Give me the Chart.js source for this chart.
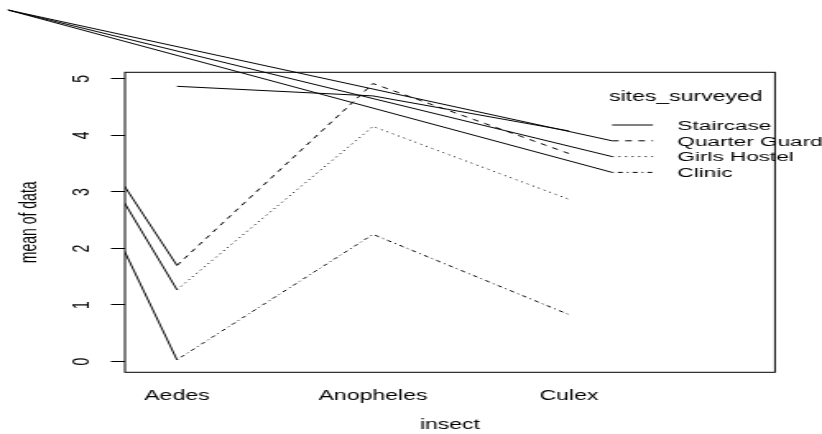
<!DOCTYPE html>
<html>
<head>
<meta charset="utf-8">
<script src="https://cdn.jsdelivr.net/npm/chart.js@4/dist/chart.umd.min.js"></script>
<style>
  body { margin: 0; background: #fff; overflow: hidden; }
  #wrap { width: 500px; height: 434px; transform: scaleX(1.644); transform-origin: 0 0; }
</style>
</head>
<body>
<div id="wrap"><canvas id="chart" width="500" height="434"></canvas></div>
<script>
// dados do grafico de interacao
const insects = ["Aedes", "Anopheles", "Culex"];
const sites = ["Staircase", "Quarter Guard", "Girls Hostel", "Clinic"];
const staircase = [4.87, 4.70, 4.08];
const quarterGuard = [1.70, 4.92, 3.68];
const girlsHostel = [1.27, 4.16, 2.87];
const clinic = [0.03, 2.25, 0.83];
const yTicks = [0, 1, 2, 3, 4, 5];

const seriesValues = [staircase, quarterGuard, girlsHostel, clinic];
const dashes = [[], [4, 4], [1, 3], [1, 2.5, 3, 2.5]];

const FONT = '"Liberation Sans", Arial, sans-serif';
Chart.defaults.font.family = FONT;
Chart.defaults.font.size = 14;
Chart.defaults.color = '#000';

// o desenho original foi esticado na horizontal (canvas 500 -> 822)
const origin = { x: 8 / 1.644, y: 10 };

const rStuff = {
  id: 'rStuff',
  afterDatasetsDraw(chart) {
    const ctx = chart.ctx;
    const a = chart.chartArea;
    ctx.save();
    ctx.strokeStyle = '#000';
    ctx.lineWidth = 1;

    // linhas soltas que saem do canto, cortadas pela area do grafico
    ctx.save();
    ctx.beginPath();
    ctx.rect(a.left, a.top, a.right - a.left, a.bottom - a.top);
    ctx.clip();
    chart.data.datasets.forEach((ds, i) => {
      if (!ds.borderDash.length) return;
      const p = chart.getDatasetMeta(i).data[0];
      ctx.beginPath();
      ctx.moveTo(origin.x, origin.y);
      ctx.lineTo(p.x, p.y);
      ctx.stroke();
    });
    ctx.restore();

    // caixa
    ctx.strokeRect(a.left, a.top, a.right - a.left, a.bottom - a.top);

    // legenda
    const x0 = a.right - 99.1, x1 = a.right - 74.2, xt = a.right - 59.3;
    ctx.fillStyle = '#000';
    ctx.textBaseline = 'middle';
    ctx.textAlign = 'left';
    ctx.font = '14px ' + FONT;
    ctx.fillText('sites_surveyed', a.right - 101, a.top + 24.5);
    ctx.font = '13.7px ' + FONT;
    sites.forEach((s, i) => {
      const yy = a.top + 52.7 + i * 15.8;
      if (dashes[i].length) {
        ctx.setLineDash([]);
        ctx.beginPath();
        ctx.moveTo(origin.x, origin.y);
        ctx.lineTo(x0, yy);
        ctx.stroke();
      }
      ctx.setLineDash(dashes[i]);
      ctx.beginPath();
      ctx.moveTo(x0, yy);
      ctx.lineTo(x1, yy);
      ctx.stroke();
      ctx.setLineDash([]);
      ctx.fillText(s, xt, yy + 1);
    });
    ctx.restore();
  }
};

const datasets = sites.map((s, i) => ({
  label: s,
  data: seriesValues[i].map((v, j) => ({ x: j + 1, y: v })),
  borderColor: '#000',
  borderWidth: 1,
  borderDash: dashes[i],
  pointRadius: 0,
  fill: false,
  tension: 0
}));

new Chart(document.getElementById('chart'), {
  type: 'line',
  data: { datasets: datasets },
  options: {
    responsive: false,
    devicePixelRatio: 1,
    animation: false,
    events: [],
    layout: { padding: { left: 0, right: 28.6, top: 72.3, bottom: 0 } },
    plugins: { legend: { display: false }, tooltip: { enabled: false } },
    scales: {
      x: {
        type: 'linear',
        min: 0.7347,
        max: 4.051,
        afterBuildTicks: (s) => { s.ticks = insects.map((n, i) => ({ value: i + 1 })); },
        afterFit: (s) => { s.height = 61.7; },
        grid: { display: false, drawTicks: false },
        border: { display: false },
        ticks: {
          padding: 15.3,
          autoSkip: false,
          maxRotation: 0,
          callback: (v) => insects[v - 1]
        },
        title: { display: true, text: 'insect', padding: { top: 0, bottom: 0 } }
      },
      y: {
        min: -0.191,
        max: 5.118,
        afterBuildTicks: (s) => { s.ticks = yTicks.map(v => ({ value: v })); },
        afterFit: (s) => { s.width = 76; },
        grid: { drawOnChartArea: false, tickLength: 8.5, color: '#000' },
        border: { display: false },
        ticks: {
          minRotation: 90,
          maxRotation: 90,
          crossAlign: 'center',
          padding: 13.4
        },
        title: { display: true, text: 'mean of data', padding: { top: 9.6, bottom: 0 } }
      }
    }
  },
  plugins: [rStuff]
});
</script>
</body>
</html>
